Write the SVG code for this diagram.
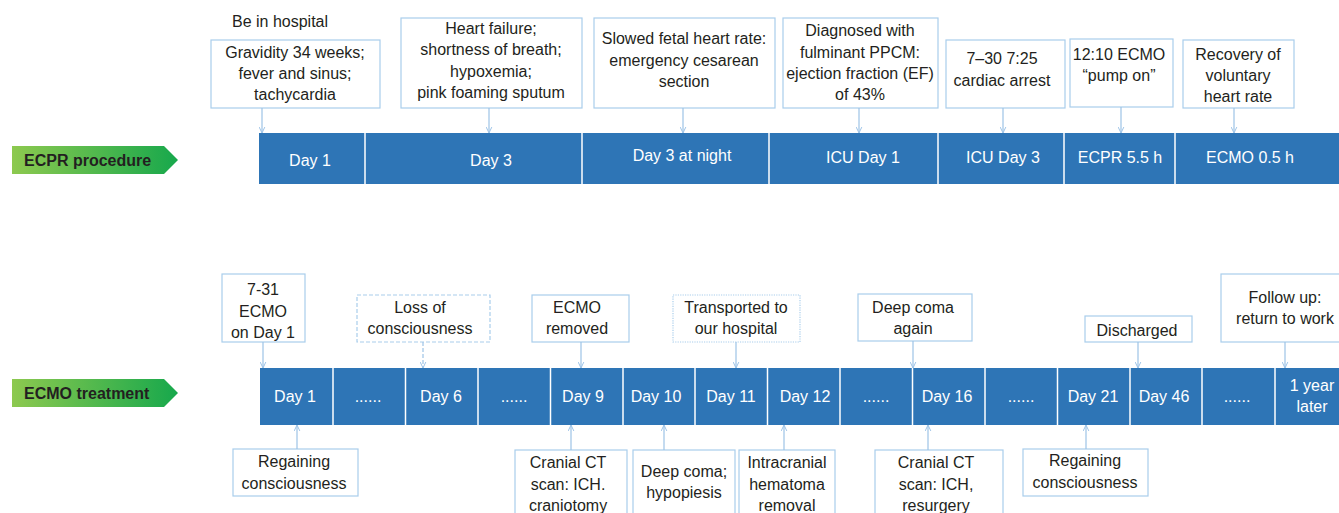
<svg xmlns="http://www.w3.org/2000/svg" width="1339" height="513" viewBox="0 0 1339 513">
<defs>
<linearGradient id="grn" x1="0" y1="0" x2="1" y2="0">
<stop offset="0" stop-color="#8DC94F"/>
<stop offset="1" stop-color="#17A84C"/>
</linearGradient>
<marker id="ah" viewBox="0 0 10 10" refX="9.5" refY="5" markerWidth="7" markerHeight="7" markerUnits="userSpaceOnUse" orient="auto">
<path d="M1,1 L9.5,5 L1,9" fill="none" stroke="#9DC3E6" stroke-width="1.4"/>
</marker>
<style>
text{font-family:"Liberation Sans",Arial,sans-serif;}
.bx{fill:#fff;stroke:#A9CDEC;stroke-width:1.2;}
.dash{stroke-dasharray:4 2;}
.dot{stroke-dasharray:1.2 1.2;}
.t{font-size:16px;fill:#231F20;text-anchor:middle;}
.bar{fill:#2E75B6;}
.dv{stroke:#fff;stroke-width:1.5;}
.bt{font-size:16px;fill:#fff;text-anchor:middle;}
.lbl{font-size:16px;font-weight:bold;fill:#231F20;}
.c{stroke:#9DC3E6;stroke-width:1.2;fill:none;marker-end:url(#ah);}
</style>
</defs>
<rect width="1339" height="513" fill="#fff"/>

<!-- Row labels -->
<g id="ecpr-label">
<polygon points="12,146 164,146 178,160 164,174 12,174" fill="url(#grn)"/>
<text class="lbl" x="24" y="166">ECPR procedure</text>
</g>
<g id="ecmo-label">
<polygon points="12,379 164,379 178,393 164,407 12,407" fill="url(#grn)"/>
<text class="lbl" x="24" y="399">ECMO treatment</text>
</g>

<!-- Top timeline bar -->
<g id="ecpr-bar">
<rect class="bar" x="259" y="133" width="1080" height="51"/>
<line class="dv" x1="365" y1="133" x2="365" y2="184"/>
<line class="dv" x1="582" y1="133" x2="582" y2="184"/>
<line class="dv" x1="769" y1="133" x2="769" y2="184"/>
<line class="dv" x1="938" y1="133" x2="938" y2="184"/>
<line class="dv" x1="1064" y1="133" x2="1064" y2="184"/>
<line class="dv" x1="1175" y1="133" x2="1175" y2="184"/>
<text class="bt" x="310" y="166">Day 1</text>
<text class="bt" x="491" y="166">Day 3</text>
<text class="bt" x="682" y="161">Day 3 at night</text>
<text class="bt" x="863" y="163">ICU Day 1</text>
<text class="bt" x="1003" y="163">ICU Day 3</text>
<text class="bt" x="1120" y="163">ECPR 5.5 h</text>
<text class="bt" x="1250" y="163">ECMO 0.5 h</text>
</g>

<!-- Bottom timeline bar -->
<g id="ecmo-bar">
<rect class="bar" x="260" y="368" width="1079" height="57"/>
<line class="dv" x1="333" y1="368" x2="333" y2="425"/>
<line class="dv" x1="405.5" y1="368" x2="405.5" y2="425"/>
<line class="dv" x1="478" y1="368" x2="478" y2="425"/>
<line class="dv" x1="550.5" y1="368" x2="550.5" y2="425"/>
<line class="dv" x1="623" y1="368" x2="623" y2="425"/>
<line class="dv" x1="695" y1="368" x2="695" y2="425"/>
<line class="dv" x1="767.5" y1="368" x2="767.5" y2="425"/>
<line class="dv" x1="840" y1="368" x2="840" y2="425"/>
<line class="dv" x1="912.5" y1="368" x2="912.5" y2="425"/>
<line class="dv" x1="985" y1="368" x2="985" y2="425"/>
<line class="dv" x1="1057.5" y1="368" x2="1057.5" y2="425"/>
<line class="dv" x1="1130" y1="368" x2="1130" y2="425"/>
<line class="dv" x1="1202" y1="368" x2="1202" y2="425"/>
<line class="dv" x1="1275" y1="368" x2="1275" y2="425"/>
<text class="bt" x="295" y="402">Day 1</text>
<text class="bt" x="368" y="402">......</text>
<text class="bt" x="441" y="402">Day 6</text>
<text class="bt" x="514" y="402">......</text>
<text class="bt" x="583" y="402">Day 9</text>
<text class="bt" x="656" y="402">Day 10</text>
<text class="bt" x="731" y="402">Day 11</text>
<text class="bt" x="805" y="402">Day 12</text>
<text class="bt" x="876" y="402">......</text>
<text class="bt" x="947" y="402">Day 16</text>
<text class="bt" x="1021" y="402">......</text>
<text class="bt" x="1093" y="402">Day 21</text>
<text class="bt" x="1164" y="402">Day 46</text>
<text class="bt" x="1237" y="402">......</text>
<text class="bt" x="1312" y="391">1 year</text>
<text class="bt" x="1312" y="412">later</text>
</g>

<!-- Top row event nodes -->
<g id="be-in-hospital">
<text class="t" x="280" y="27">Be in hospital</text>
</g>
<g id="n-gravidity">
<rect class="bx" x="211" y="40" width="169" height="68"/>
<text class="t" x="295" y="58">Gravidity 34 weeks;</text>
<text class="t" x="295" y="79">fever and sinus;</text>
<text class="t" x="295" y="100">tachycardia</text>
</g>
<g id="n-heart-failure">
<rect class="bx" x="401" y="18" width="181" height="90"/>
<text class="t" x="491" y="34">Heart failure;</text>
<text class="t" x="491" y="55">shortness of breath;</text>
<text class="t" x="491" y="77">hypoxemia;</text>
<text class="t" x="491" y="98">pink foaming sputum</text>
</g>
<g id="n-fetal">
<rect class="bx" x="594" y="18" width="181" height="90"/>
<text class="t" x="684" y="44">Slowed fetal heart rate:</text>
<text class="t" x="684" y="66">emergency cesarean</text>
<text class="t" x="684" y="87">section</text>
</g>
<g id="n-ppcm">
<rect class="bx" x="783" y="18" width="155" height="90"/>
<text class="t" x="860" y="36">Diagnosed with</text>
<text class="t" x="860" y="58">fulminant PPCM:</text>
<text class="t" x="860" y="79">ejection fraction (EF)</text>
<text class="t" x="860" y="100">of 43%</text>
</g>
<g id="n-arrest">
<rect class="bx" x="946" y="40" width="119" height="68"/>
<text class="t" x="1002" y="64">7–30 7:25</text>
<text class="t" x="1002" y="86">cardiac arrest</text>
</g>
<g id="n-pump">
<rect class="bx" x="1070" y="39" width="103" height="68"/>
<text class="t" x="1119" y="60">12:10 ECMO</text>
<text class="t" x="1119" y="81">“pump on”</text>
</g>
<g id="n-recovery">
<rect class="bx" x="1183" y="40" width="111" height="68"/>
<text class="t" x="1238" y="60">Recovery of</text>
<text class="t" x="1238" y="81">voluntary</text>
<text class="t" x="1238" y="102">heart rate</text>
</g>

<!-- Bottom row event nodes (above bar) -->
<g id="n-ecmo-day1">
<rect class="bx" x="222" y="274" width="83" height="68"/>
<text class="t" x="263" y="295">7-31</text>
<text class="t" x="263" y="317">ECMO</text>
<text class="t" x="263" y="338">on Day 1</text>
</g>
<g id="n-loss">
<rect class="bx dash" x="357" y="295" width="133" height="47"/>
<text class="t" x="420" y="313">Loss of</text>
<text class="t" x="420" y="334">consciousness</text>
</g>
<g id="n-ecmo-removed">
<rect class="bx" x="532" y="295" width="97" height="47"/>
<text class="t" x="577" y="313">ECMO</text>
<text class="t" x="577" y="334">removed</text>
</g>
<g id="n-transported">
<rect class="bx dot" x="673" y="295" width="127" height="47"/>
<text class="t" x="736" y="313">Transported to</text>
<text class="t" x="736" y="334">our hospital</text>
</g>
<g id="n-deep-coma-again">
<rect class="bx" x="858" y="294" width="114" height="47"/>
<text class="t" x="913" y="313">Deep coma</text>
<text class="t" x="913" y="334">again</text>
</g>
<g id="n-discharged">
<rect class="bx" x="1085" y="316" width="107" height="26"/>
<text class="t" x="1137" y="336">Discharged</text>
</g>
<g id="n-follow-up">
<rect class="bx" x="1221" y="274" width="130" height="68"/>
<text class="t" x="1285" y="303">Follow up:</text>
<text class="t" x="1285" y="324">return to work</text>
</g>

<!-- Bottom row event nodes (below bar) -->
<g id="n-regain1">
<rect class="bx" x="233" y="449" width="125" height="47"/>
<text class="t" x="294" y="467">Regaining</text>
<text class="t" x="294" y="489">consciousness</text>
</g>
<g id="n-ct1">
<rect class="bx" x="515" y="450" width="112" height="70"/>
<text class="t" x="568" y="468">Cranial CT</text>
<text class="t" x="568" y="490">scan: ICH.</text>
<text class="t" x="568" y="511">craniotomy</text>
</g>
<g id="n-deep-coma">
<rect class="bx" x="633" y="450" width="102" height="70"/>
<text class="t" x="684" y="477">Deep coma;</text>
<text class="t" x="684" y="498">hypopiesis</text>
</g>
<g id="n-hematoma">
<rect class="bx" x="739" y="450" width="96" height="70"/>
<text class="t" x="787" y="468">Intracranial</text>
<text class="t" x="787" y="490">hematoma</text>
<text class="t" x="787" y="511">removal</text>
</g>
<g id="n-ct2">
<rect class="bx" x="875" y="450" width="128" height="70"/>
<text class="t" x="936" y="468">Cranial CT</text>
<text class="t" x="936" y="490">scan: ICH,</text>
<text class="t" x="936" y="511">resurgery</text>
</g>
<g id="n-regain2">
<rect class="bx" x="1023" y="449" width="125" height="47"/>
<text class="t" x="1085" y="466">Regaining</text>
<text class="t" x="1085" y="488">consciousness</text>
</g>

<!-- Connectors -->
<g id="connectors">
<line class="c" x1="262" y1="108" x2="262" y2="133"/>
<line class="c" x1="489" y1="108" x2="489" y2="133"/>
<line class="c" x1="683" y1="108" x2="683" y2="133"/>
<line class="c" x1="859" y1="108" x2="859" y2="133"/>
<line class="c" x1="1003" y1="108" x2="1003" y2="133"/>
<line class="c" x1="1121" y1="107" x2="1121" y2="133"/>
<line class="c" x1="1234" y1="108" x2="1234" y2="133"/>

<line class="c" x1="263" y1="342" x2="263" y2="368"/>
<line class="c dash" x1="423" y1="342" x2="423" y2="368"/>
<line class="c" x1="581" y1="342" x2="581" y2="368"/>
<line class="c" x1="736" y1="342" x2="736" y2="368"/>
<line class="c" x1="913" y1="341" x2="913" y2="368"/>
<line class="c" x1="1138" y1="342" x2="1138" y2="368"/>
<line class="c" x1="1285" y1="342" x2="1285" y2="368"/>

<line class="c" x1="297" y1="449" x2="297" y2="425"/>
<line class="c" x1="571" y1="450" x2="571" y2="425"/>
<line class="c" x1="664" y1="450" x2="664" y2="425"/>
<line class="c" x1="784" y1="450" x2="784" y2="425"/>
<line class="c" x1="928" y1="450" x2="928" y2="425"/>
<line class="c" x1="1086" y1="449" x2="1086" y2="425"/>
</g>
</svg>
